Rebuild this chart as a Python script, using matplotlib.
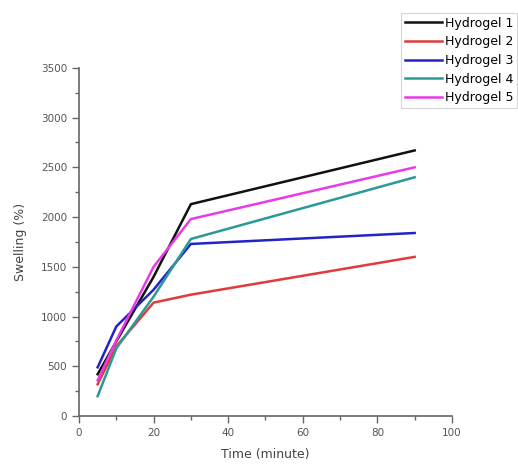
import matplotlib
matplotlib.use('Agg')
import matplotlib.pyplot as plt
from matplotlib.ticker import MultipleLocator

# data
time_min = [5, 10, 20, 30, 90]
hydrogel_1 = [420, 750, 1400, 2130, 2670]
hydrogel_2 = [320, 700, 1140, 1220, 1600]
hydrogel_3 = [490, 900, 1270, 1730, 1840]
hydrogel_4 = [200, 680, 1200, 1780, 2400]
hydrogel_5 = [360, 760, 1500, 1980, 2500]
labels = ['Hydrogel 1', 'Hydrogel 2', 'Hydrogel 3', 'Hydrogel 4', 'Hydrogel 5']

colors = ['#111111', '#e03a3a', '#2323c8', '#2a9a96', '#e83ae8']
axis_col = '#666666'

fig = plt.figure(figsize=(5.18, 4.68), dpi=100)
ax = fig.add_axes([0.1525, 0.111, 0.72, 0.744])

for ys, lab, c in zip([hydrogel_1, hydrogel_2, hydrogel_3, hydrogel_4, hydrogel_5], labels, colors):
    ax.plot(time_min, ys, color=c, linewidth=1.8, label=lab)

ax.set_xlim(0, 100)
ax.set_ylim(0, 3500)
ax.xaxis.set_major_locator(MultipleLocator(20))
ax.xaxis.set_minor_locator(MultipleLocator(10))
ax.yaxis.set_major_locator(MultipleLocator(500))
ax.yaxis.set_minor_locator(MultipleLocator(250))

for side in ['top', 'right']:
    ax.spines[side].set_visible(False)
for side in ['left', 'bottom']:
    ax.spines[side].set_color(axis_col)
    ax.spines[side].set_linewidth(1.2)
ax.tick_params(which='major', direction='out', length=5, width=1, color=axis_col,
               labelsize=7.5, labelcolor='#555555')
ax.tick_params(which='minor', direction='out', length=3, width=1, color=axis_col)

ax.set_xlabel('Time (minute)', fontsize=9, color='#444444', labelpad=7)
ax.set_ylabel('Swelling (%)', fontsize=9, color='#444444', labelpad=10)

leg = ax.legend(loc='upper right', bbox_to_anchor=(0.998, 0.972), bbox_transform=fig.transFigure,
                fontsize=9, frameon=True, fancybox=False, handlelength=3.0,
                handletextpad=0.2, borderpad=0.3, labelspacing=0.45, borderaxespad=0)
leg.get_frame().set_edgecolor('#cccccc')
leg.get_frame().set_linewidth(0.8)

fig.savefig('out.png', dpi=100)
